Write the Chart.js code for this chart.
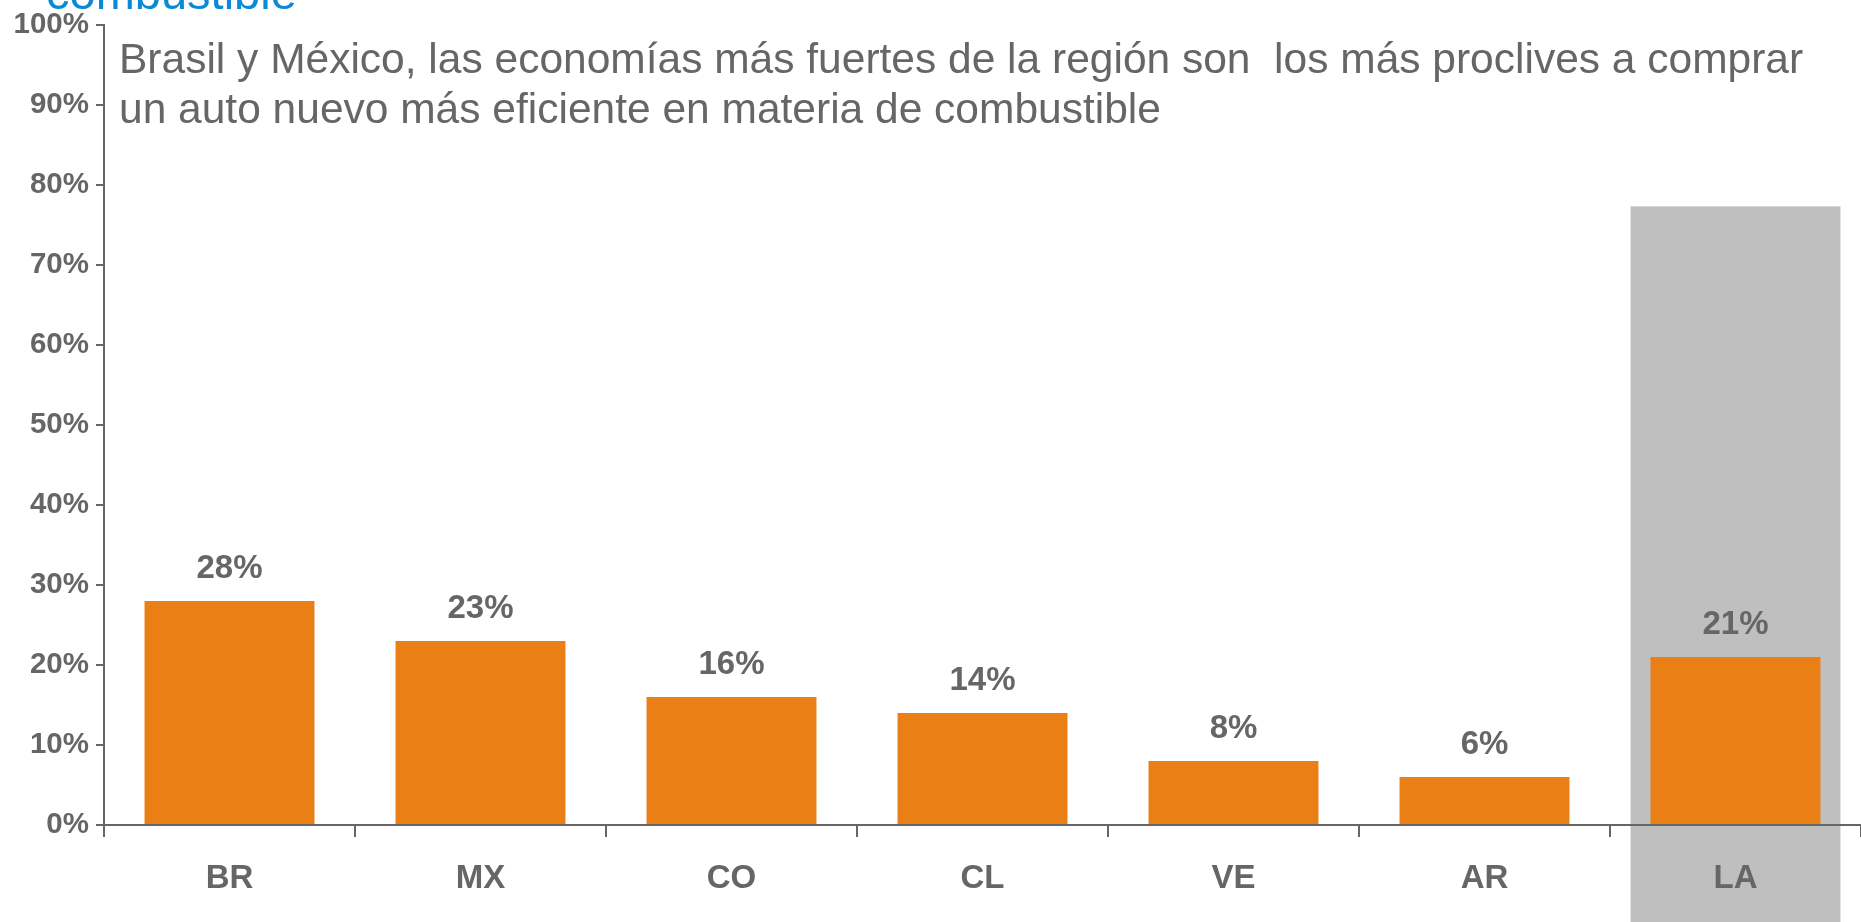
<!DOCTYPE html>
<html>
<head>
<meta charset="utf-8">
<script src="https://cdn.jsdelivr.net/npm/chart.js@4.4.1/dist/chart.umd.min.js"></script>
<style>
  html, body { margin: 0; padding: 0; background: #fff; overflow: hidden; }
  .chartBox { width: 1861px; height: 922px; }
</style>
</head>
<body>
<div class="chartBox"><canvas id="chart"></canvas></div>
<script>
const countries = ["BR", "MX", "CO", "CL", "VE", "AR", "LA"];
const shares = [28, 23, 16, 14, 8, 6, 21];
const yTicks = [0, 10, 20, 30, 40, 50, 60, 70, 80, 90, 100];
const highlightCountry = "LA";
const highlightLevel = 77.3;
const headline = [
  "Brasil y México, las economías más fuertes de la región son  los más proclives a comprar",
  "un auto nuevo más eficiente en materia de combustible"
];
const cutTitle = "combustible";

const FONT = "'Liberation Sans', Arial, sans-serif";
const GREY = "#666666";

// grey box behind the regional average
const highlightBox = {
  id: "highlightBox",
  beforeDraw(chart) {
    const { ctx, scales: { x, y } } = chart;
    const idx = countries.indexOf(highlightCountry);
    const catW = x.width / countries.length;
    const cx = x.getPixelForValue(idx);
    const half = catW * 0.418;
    const top = y.getPixelForValue(highlightLevel);
    ctx.save();
    ctx.fillStyle = "#bfbfbf";
    ctx.fillRect(cx - half, top, half * 2, chart.height - top);
    ctx.restore();
  },
};

const barLabels = {
  id: "barLabels",
  afterDatasetsDraw(chart) {
    const { ctx } = chart;
    ctx.save();
    ctx.font = "bold 33px " + FONT;
    ctx.fillStyle = GREY;
    ctx.textAlign = "center";
    ctx.textBaseline = "alphabetic";
    chart.getDatasetMeta(0).data.forEach((bar, i) => {
      ctx.fillText(shares[i] + "%", bar.x, bar.y - 23);
    });
    ctx.restore();
  },
};

const headlineText = {
  id: "headlineText",
  afterDraw(chart) {
    const { ctx } = chart;
    ctx.save();
    ctx.textAlign = "left";
    ctx.textBaseline = "alphabetic";
    ctx.font = "47px " + FONT;
    ctx.fillStyle = "#0a8ad6";
    ctx.fillText(cutTitle, 46, 9);
    ctx.font = "42.5px " + FONT;
    ctx.fillStyle = GREY;
    headline.forEach((line, i) => {
      ctx.fillText(line, 119, 73 + i * 50);
    });
    ctx.restore();
  },
};

const config = {
  type: "bar",
  data: {
    labels: countries,
    datasets: [
      {
        data: shares,
        backgroundColor: "#ea8015",
        borderWidth: 0,
        categoryPercentage: 1,
        barPercentage: 0.677,
      },
    ],
  },
  options: {
    responsive: true,
    maintainAspectRatio: false,
    animation: false,
    layout: { padding: { top: 19, right: 0, bottom: 0, left: 0 } },
    plugins: {
      legend: { display: false },
      tooltip: { enabled: false },
      title: { display: false },
    },
    scales: {
      x: {
        offset: true,
        grid: {
          display: true,
          offset: true,
          drawOnChartArea: false,
          drawTicks: true,
          tickLength: 12,
          color: GREY,
          lineWidth: 2,
        },
        border: { display: true, color: GREY, width: 2 },
        ticks: {
          color: GREY,
          font: { family: FONT, size: 33, weight: "bold" },
          padding: 22,
          maxRotation: 0,
        },
        afterFit(scale) {
          scale.height = 97;
        },
      },
      y: {
        min: 0,
        max: 100,
        afterBuildTicks(scale) {
          scale.ticks = yTicks.map((v) => ({ value: v }));
        },
        grid: {
          display: true,
          drawOnChartArea: false,
          drawTicks: true,
          tickLength: 8,
          color: GREY,
          lineWidth: 2,
        },
        border: { display: true, color: GREY, width: 2 },
        ticks: {
          color: GREY,
          font: { family: FONT, size: 29.5, weight: "bold" },
          padding: 7,
          callback: (v) => v + "%",
        },
        afterFit(scale) {
          scale.width = 104;
        },
      },
    },
  },
  plugins: [highlightBox, barLabels, headlineText],
};

new Chart(document.getElementById("chart"), config);
</script>
</body>
</html>
